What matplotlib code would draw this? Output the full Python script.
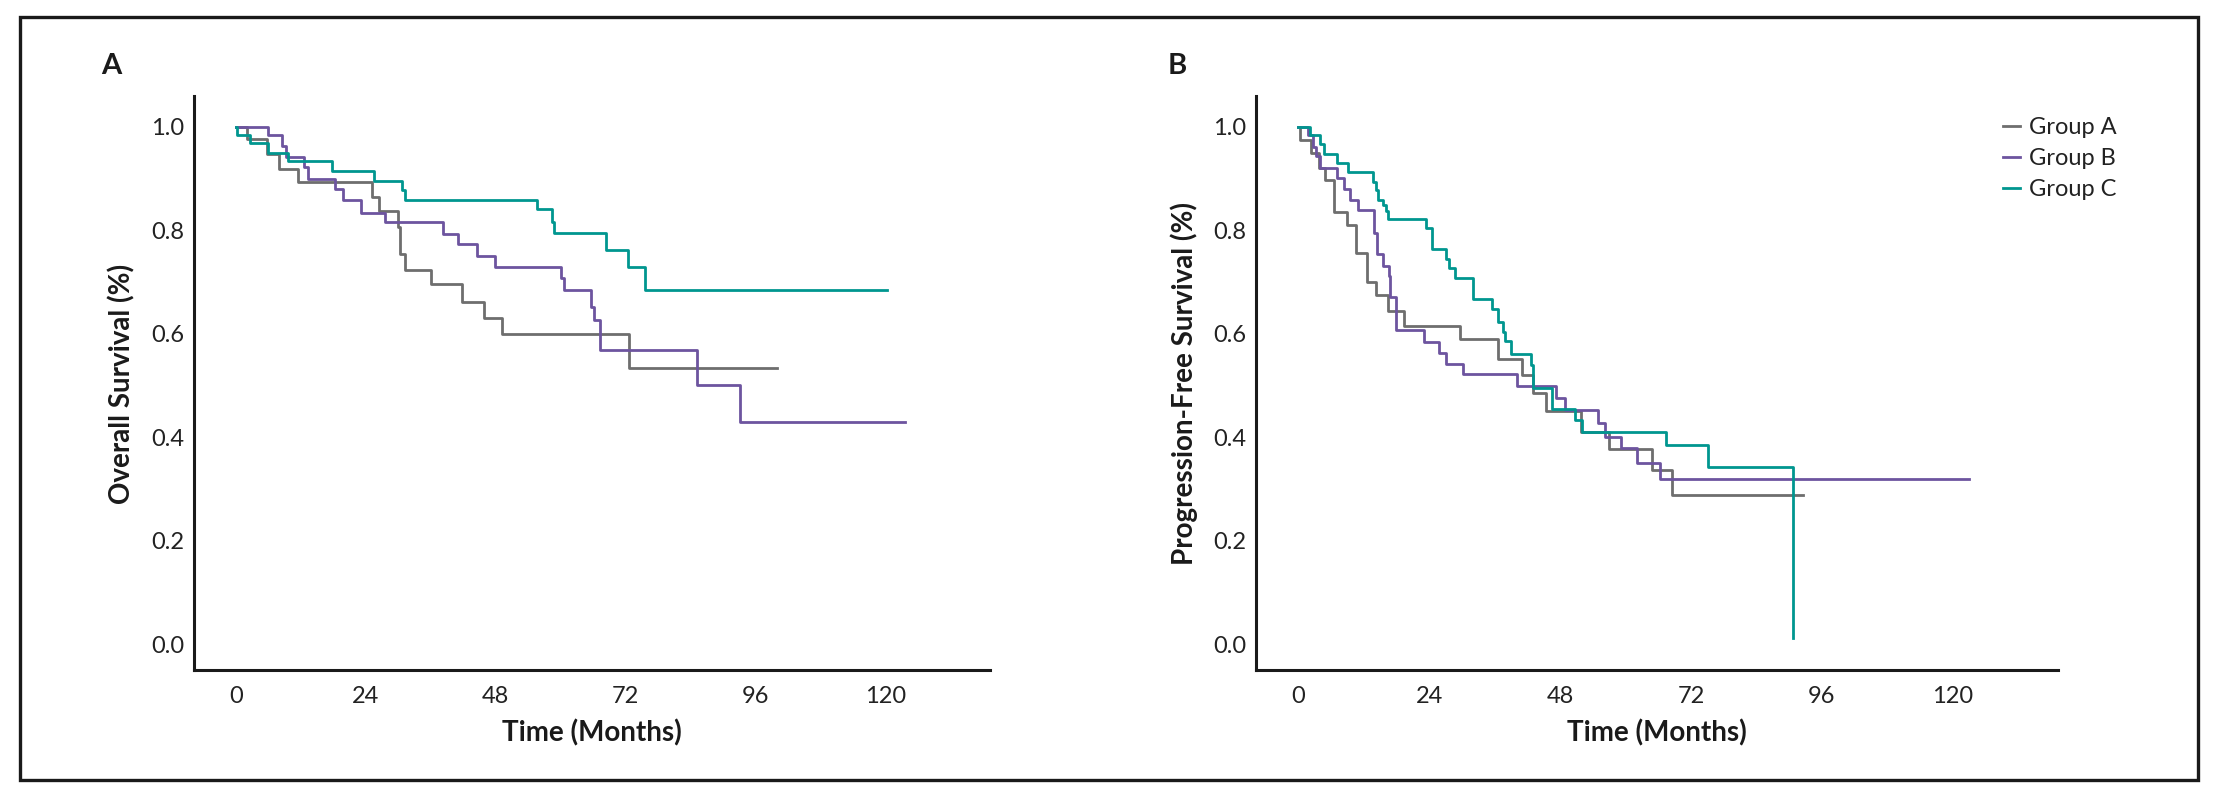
import numpy as np
import matplotlib.pyplot as plt
from matplotlib.patches import Rectangle

plt.rcParams['font.family'] = ['Lato', 'DejaVu Sans']

groups = ['Group A', 'Group B', 'Group C']
colors = ['#6e6e6e', '#6d549f', '#00968f']

# Panel A - overall survival: drop times (months), survival after each drop, last follow-up
os_a_t = [2.0, 5.8, 8.0, 11.5, 25.1, 26.4, 30.0, 30.4, 31.3, 36.0, 41.7, 45.9, 49.2, 72.6]
os_a_s = [0.975, 0.946, 0.918, 0.892, 0.863, 0.836, 0.807, 0.753, 0.724, 0.696, 0.662, 0.631, 0.600, 0.533]
os_a_end = 100.0

os_b_t = [5.9, 8.5, 9.2, 12.6, 13.3, 18.4, 19.8, 23.1, 27.6, 38.2, 41.1, 44.6, 47.9, 60.0, 60.6,
          65.6, 66.1, 67.2, 85.1, 93.1]
os_b_s = [0.983, 0.963, 0.942, 0.922, 0.899, 0.880, 0.859, 0.834, 0.816, 0.793, 0.773, 0.751, 0.729,
          0.707, 0.684, 0.652, 0.626, 0.568, 0.502, 0.430]
os_b_end = 123.6

os_c_t = [0.3, 2.7, 5.9, 9.6, 17.7, 25.5, 30.7, 31.2, 55.7, 58.4, 58.8, 68.4, 72.4, 75.6]
os_c_s = [0.983, 0.969, 0.949, 0.933, 0.915, 0.895, 0.878, 0.859, 0.840, 0.816, 0.795, 0.762, 0.729, 0.685]
os_c_end = 120.3

# Panel B - progression-free survival
pfs_a_t = [0.4, 2.3, 3.8, 4.9, 6.6, 8.9, 10.7, 12.6, 14.2, 16.4, 19.5, 29.7, 36.6, 41.1, 43.0, 45.5,
           51.9, 57.0, 64.9, 68.6]
pfs_a_s = [0.974, 0.949, 0.920, 0.896, 0.835, 0.809, 0.755, 0.700, 0.674, 0.644, 0.615, 0.589, 0.552,
           0.520, 0.485, 0.450, 0.410, 0.378, 0.337, 0.289]
pfs_a_end = 92.5

pfs_b_t = [1.8, 2.8, 3.3, 4.0, 7.1, 8.5, 9.5, 10.9, 13.9, 14.5, 15.6, 16.7, 16.9, 17.9, 23.0, 25.9,
           27.1, 30.2, 40.2, 47.3, 49.0, 54.9, 56.3, 59.2, 62.1, 66.4]
pfs_b_s = [0.984, 0.960, 0.944, 0.920, 0.901, 0.880, 0.859, 0.838, 0.794, 0.753, 0.731, 0.711, 0.670,
           0.607, 0.584, 0.562, 0.541, 0.522, 0.499, 0.476, 0.453, 0.428, 0.401, 0.379, 0.350, 0.320]
pfs_b_end = 122.9

pfs_c_t = [2.2, 4.1, 4.8, 7.1, 9.2, 13.8, 14.2, 14.7, 15.6, 16.1, 16.5, 23.4, 24.5, 27.1, 27.6, 28.8,
           32.0, 35.5, 36.7, 37.6, 37.9, 39.1, 42.7, 43.1, 46.5, 50.8, 52.0, 67.5, 75.2, 90.8]
pfs_c_s = [0.983, 0.967, 0.947, 0.929, 0.913, 0.893, 0.877, 0.859, 0.848, 0.836, 0.821, 0.805, 0.764,
           0.745, 0.726, 0.707, 0.668, 0.647, 0.623, 0.604, 0.586, 0.561, 0.539, 0.495, 0.454, 0.434,
           0.411, 0.385, 0.342, 0.012]
pfs_c_end = 90.8

xticks = [0, 24, 48, 72, 96, 120]
yticks = [0.0, 0.2, 0.4, 0.6, 0.8, 1.0]


def km_xy(t, s, end):
    x = [0.0] + list(t) + [end]
    y = [1.0] + list(s) + [s[-1]]
    return x, y


fig = plt.figure(figsize=(22.18, 7.96), dpi=100)
axA = fig.add_axes([0.0875, 0.1577, 0.359, 0.7211])
axB = fig.add_axes([0.5663, 0.1577, 0.3616, 0.7211])

curvesA = [(os_a_t, os_a_s, os_a_end), (os_b_t, os_b_s, os_b_end), (os_c_t, os_c_s, os_c_end)]
curvesB = [(pfs_a_t, pfs_a_s, pfs_a_end), (pfs_b_t, pfs_b_s, pfs_b_end), (pfs_c_t, pfs_c_s, pfs_c_end)]

for ax, curves, ylab in [(axA, curvesA, 'Overall Survival (%)'),
                         (axB, curvesB, 'Progression-Free Survival (%)')]:
    for (t, s, end), name, c in zip(curves, groups, colors):
        x, y = km_xy(t, s, end)
        ax.step(x, y, where='post', color=c, lw=2.0, label=name)
    ax.set_xlim(-7.7, 139.3)
    ax.set_ylim(-0.05, 1.058)
    ax.set_xticks(xticks)
    ax.set_yticks(yticks)
    ax.set_yticklabels(['%.1f' % v for v in yticks])
    for side in ['top', 'right']:
        ax.spines[side].set_visible(False)
    for side in ['left', 'bottom']:
        ax.spines[side].set_linewidth(2.2)
        ax.spines[side].set_color('#1a1a1a')
    ax.tick_params(axis='x', length=0, pad=11, labelsize=17, labelcolor='#222222')
    ax.tick_params(axis='y', length=0, pad=7, labelsize=17, labelcolor='#222222')
    ax.set_xlabel('Time (Months)', fontsize=20, fontweight='bold', labelpad=9, color='#1a1a1a')
    ax.set_ylabel(ylab, fontsize=20, fontweight='bold', labelpad=11, color='#1a1a1a')

axB.legend(loc='upper left', bbox_to_anchor=(2003 / 2218, 1 - 117 / 796),
           bbox_transform=fig.transFigure, frameon=False, fontsize=17,
           handlelength=0.7, handletextpad=0.4, labelspacing=0.42,
           borderpad=0, borderaxespad=0, labelcolor='#222222')

fig.text(111 / 2218, 1 - 66 / 796, 'A', fontsize=21, fontweight='bold', ha='center', va='center',
         color='#1a1a1a')
fig.text(1177 / 2218, 1 - 66 / 796, 'B', fontsize=21, fontweight='bold', ha='center', va='center',
         color='#1a1a1a')

fig.patches.append(Rectangle((20 / 2218, 1 - 780 / 796), 2178 / 2218, 763 / 796,
                             transform=fig.transFigure, fill=False, lw=2.4, ec='#1a1a1a'))

fig.savefig('out.png', dpi=100)
